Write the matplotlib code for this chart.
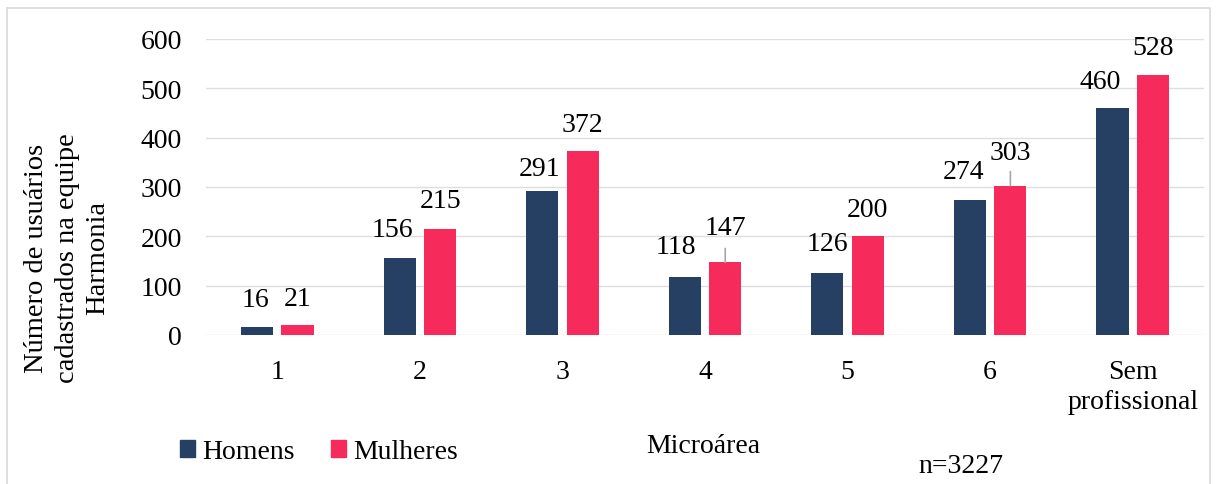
import numpy as np
import matplotlib
matplotlib.use("Agg")
import matplotlib.pyplot as plt
from matplotlib.patches import Rectangle, Patch

plt.rcParams['font.family'] = ['Liberation Serif', 'DejaVu Serif']

# Dados por microárea
microareas = ["1", "2", "3", "4", "5", "6", "Sem\nprofissional"]
homens = [16, 156, 291, 118, 126, 274, 460]
mulheres = [21, 215, 372, 147, 200, 303, 528]

# posição dos rótulos em pixels (dx, dy) a partir do topo da barra
dx_homens = [-2, -7, -3, -9, 0, -6, -12]
dy_homens = [28, 29, 23, 30, 29, 28, 27]
dy_mulheres = [26, 28, 27, 35, 27, 33, 27]
linha_guia_mulheres = [False, False, False, True, False, True, False]

cor_h = "#264064"
cor_m = "#F62B5C"
fs = 20

fig = plt.figure(figsize=(12.16, 4.85), dpi=100)
ax = fig.add_axes([206/1216, (485-336)/485, 998/1216, 296/485])

x = np.arange(len(microareas))
w = 0.225
d = 0.142
ax.bar(x - d, homens, w, color=cor_h, zorder=3)
ax.bar(x + d, mulheres, w, color=cor_m, zorder=3)

ax.set_xlim(-0.5, len(microareas) - 0.5)
ax.set_ylim(0, 600)
ax.set_yticks(range(0, 601, 100))
ax.set_xticks(x)
ax.set_xticklabels(microareas, fontsize=fs, linespacing=1.3)
ax.tick_params(axis='y', labelsize=fs, length=0, pad=17.5)
ax.tick_params(axis='x', length=0, pad=17)
ax.grid(axis='y', color='#DEDEDE', linewidth=1, zorder=0)
for s in ax.spines.values():
    s.set_visible(False)

for xi, v, dx, dy in zip(x - d, homens, dx_homens, dy_homens):
    ax.annotate(str(v), (xi, v), xytext=(dx, dy), textcoords='offset pixels',
                ha='center', va='center', fontsize=fs)

for xi, v, dy, guia in zip(x + d, mulheres, dy_mulheres, linha_guia_mulheres):
    ax.annotate(str(v), (xi, v), xytext=(0, dy), textcoords='offset pixels',
                ha='center', va='center', fontsize=fs)
    if guia:
        # linha de chamada entre a barra e o rótulo
        ax.annotate("", (xi, v), xytext=(0, 14), textcoords='offset pixels',
                    arrowprops=dict(arrowstyle='-', color='#A6A6A6', lw=1.2,
                                    shrinkA=0, shrinkB=0))

fig.text(67/1216, 1 - 258/485,
         "Número de usuários\ncadastrados na equipe\nHarmonia",
         rotation=90, ha='center', va='center', fontsize=20.5,
         multialignment='center', linespacing=1.3)
fig.text(703/1216, 1 - 447/485, "Microárea", ha='center', va='center', fontsize=fs)
fig.text(961/1216, 1 - 467/485, "n=3227", ha='center', va='center', fontsize=fs)

fig.legend(handles=[Patch(color=cor_h, label="Homens"), Patch(color=cor_m, label="Mulheres")],
           loc='center left', bbox_to_anchor=(180/1216, 1 - 453/485), ncol=2,
           frameon=False, fontsize=fs, handlelength=0.55, handleheight=0.55,
           handletextpad=0.25, columnspacing=1.3, borderpad=0, borderaxespad=0)

fig.patches.append(Rectangle((7/1216, -0.02), 1203/1216, (485-9)/485 + 0.02,
                             transform=fig.transFigure, fill=False,
                             edgecolor='#D9D9D9', linewidth=1.2))

fig.savefig("out.png", dpi=100)
